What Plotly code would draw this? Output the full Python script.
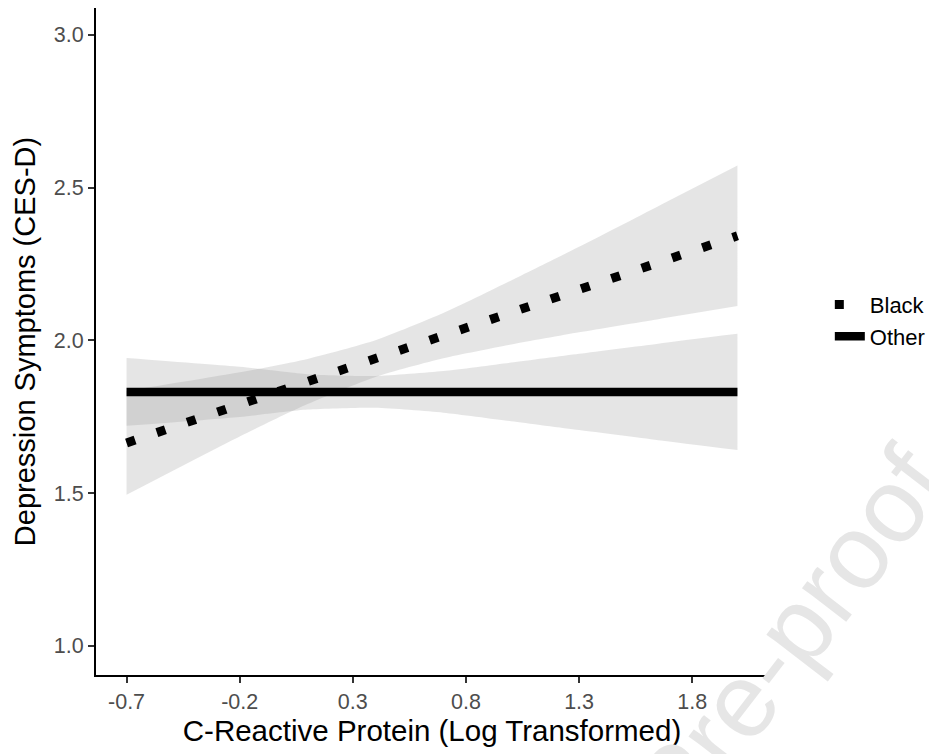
import plotly.graph_objects as go

# ---- data ----
x_grid = [-0.7, -0.2, 0.1, 0.4, 0.7, 1.0, 1.3, 1.65, 2.0]
black_fit = [1.664, 1.790, 1.865, 1.940, 2.015, 2.091, 2.166, 2.254, 2.342]
black_upper = [1.834, 1.895, 1.939, 2.000, 2.089, 2.196, 2.306, 2.439, 2.572]
black_lower = [1.494, 1.685, 1.791, 1.880, 1.941, 1.986, 2.026, 2.069, 2.112]
other_fit = [1.831, 1.831, 1.831, 1.831, 1.831, 1.831, 1.831, 1.831, 1.831]
other_upper = [1.942, 1.913, 1.889, 1.883, 1.899, 1.927, 1.956, 1.989, 2.021]
other_lower = [1.720, 1.749, 1.773, 1.779, 1.763, 1.735, 1.706, 1.673, 1.641]

x_ticks = [-0.7, -0.2, 0.3, 0.8, 1.3, 1.8]
x_tick_labels = ["-0.7", "-0.2", "0.3", "0.8", "1.3", "1.8"]
y_ticks = [1.0, 1.5, 2.0, 2.5, 3.0]
y_tick_labels = ["1.0", "1.5", "2.0", "2.5", "3.0"]

band_fill = "rgba(153,153,153,0.26)"
FONT = "Liberation Sans, Arial, sans-serif"

fig = go.Figure()

for up, lo in [(black_upper, black_lower), (other_upper, other_lower)]:
    fig.add_trace(go.Scatter(x=x_grid, y=up, mode="lines",
                             line=dict(width=0, shape="spline", smoothing=0.6),
                             showlegend=False, hoverinfo="skip"))
    fig.add_trace(go.Scatter(x=x_grid, y=lo, mode="lines", fill="tonexty",
                             fillcolor=band_fill,
                             line=dict(width=0, shape="spline", smoothing=0.6),
                             showlegend=False, hoverinfo="skip"))

fig.add_trace(go.Scatter(x=x_grid, y=black_fit, mode="lines", name="Black",
                         line=dict(color="black", width=9, dash="9px,23px")))
fig.add_trace(go.Scatter(x=x_grid, y=other_fit, mode="lines", name="Other",
                         line=dict(color="black", width=8.5)))

fig.update_layout(
    width=929, height=746,
    margin=dict(l=87.5, r=169.3, t=0, b=79, autoexpand=False),
    paper_bgcolor="white", plot_bgcolor="white",
    font=dict(family=FONT, color="black"),
    showlegend=True,
    legend=dict(x=1.092, y=0.531, xanchor="left", yanchor="middle",
                traceorder="normal",
                font=dict(size=22, color="black", family=FONT),
                bgcolor="rgba(0,0,0,0)", tracegroupgap=0, itemwidth=30),
    xaxis=dict(range=[-0.835, 2.135], tickmode="array", tickvals=x_ticks,
               ticktext=x_tick_labels, showgrid=False, zeroline=False,
               showline=True, linecolor="black", linewidth=2,
               ticks="outside", ticklen=6, tickwidth=2, tickcolor="#333333",
               tickfont=dict(size=21.5, color="#4d4d4d", family=FONT),
               title=dict(text="C-Reactive Protein (Log Transformed)",
                          font=dict(size=29.5, color="black", family=FONT),
                          standoff=1)),
    yaxis=dict(range=[0.904, 3.088], tickmode="array", tickvals=y_ticks,
               ticktext=y_tick_labels, showgrid=False, zeroline=False,
               showline=True, linecolor="black", linewidth=2,
               ticks="outside", ticklen=6, tickwidth=2, tickcolor="#333333",
               tickfont=dict(size=21.5, color="#4d4d4d", family=FONT),
               title=dict(text="Depression Symptoms (CES-D)",
                          font=dict(size=29, color="black", family=FONT),
                          standoff=10)),
    annotations=[dict(text="Journal Pre-proof", xref="paper", yref="paper",
                      x=0.863, y=-0.162, xanchor="center", yanchor="middle",
                      showarrow=False, textangle=-52.5,
                      font=dict(size=105, color="rgb(230,230,230)", family=FONT))],
)

fig.write_html("out.html")
